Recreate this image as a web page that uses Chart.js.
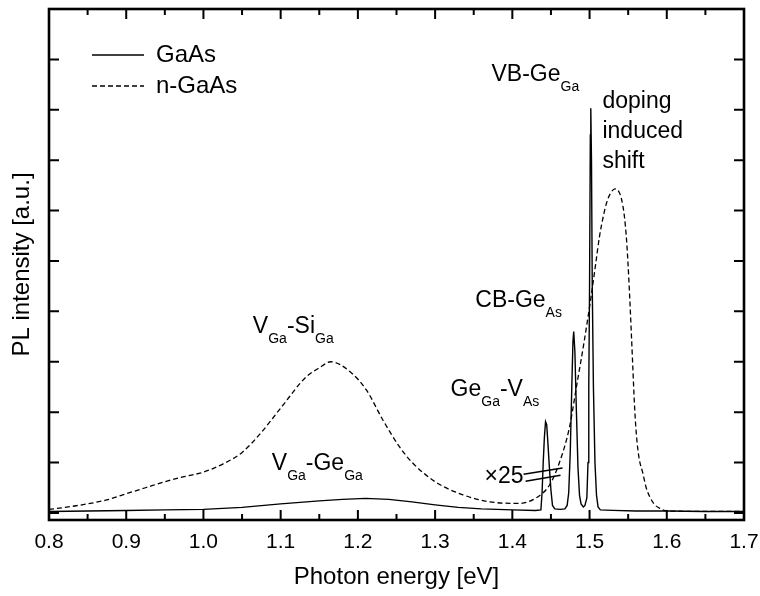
<!DOCTYPE html>
<html>
<head>
<meta charset="utf-8">
<script src="https://cdn.jsdelivr.net/npm/chart.js@4/dist/chart.umd.min.js"></script>
<style>
  html, body { margin: 0; padding: 0; background: #fff; }
  #wrap { width: 760px; height: 596px; }
</style>
</head>
<body>
<div id="wrap"><canvas id="pl" width="760" height="596"></canvas></div>
<script>
// Photoluminescence spectra (intensity in arbitrary units)
const seriesNames = ['GaAs', 'n-GaAs'];

const gaasEnergy = [0.80, 0.85, 0.90, 0.95, 1.00, 1.05, 1.10, 1.15, 1.18, 1.21, 1.24, 1.27, 1.30, 1.33, 1.36, 1.40, 1.43,
  1.437, 1.4385, 1.440, 1.4415, 1.443, 1.4445, 1.446, 1.448, 1.450, 1.452, 1.455, 1.462, 1.468, 1.471, 1.473, 1.475,
  1.477, 1.4785, 1.4795, 1.481, 1.483, 1.485, 1.487, 1.489, 1.492, 1.494, 1.4965, 1.498, 1.499, 1.500, 1.501, 1.5016,
  1.5025, 1.5035, 1.505, 1.507, 1.509, 1.511, 1.514, 1.53, 1.56, 1.60, 1.65, 1.70];
const gaasIntensity = [0.03, 0.04, 0.05, 0.06, 0.07, 0.11, 0.18, 0.24, 0.27, 0.29, 0.27, 0.22, 0.16, 0.11, 0.08, 0.06, 0.05,
  0.06, 0.4, 1.0, 1.5, 1.81, 1.75, 1.4, 0.9, 0.45, 0.15, 0.08, 0.07, 0.08, 0.15, 0.4, 1.2,
  2.5, 3.4, 3.6, 3.2, 2.0, 0.9, 0.35, 0.18, 0.12, 0.15, 0.3, 1.0, 2.5, 4.5, 7.5, 8.03,
  7.0, 4.5, 2.5, 1.0, 0.35, 0.12, 0.06, 0.05, 0.04, 0.04, 0.03, 0.03];

const nGaasEnergy = [0.80, 0.825, 0.85, 0.875, 0.90, 0.925, 0.95, 0.975, 1.00, 1.025, 1.05, 1.075, 1.10, 1.133, 1.15, 1.165,
  1.19, 1.211, 1.2325, 1.254, 1.271, 1.30, 1.336, 1.371, 1.409, 1.431, 1.448, 1.461, 1.474, 1.483, 1.493, 1.503, 1.508,
  1.513, 1.518, 1.522, 1.527, 1.533, 1.537, 1.541, 1.545, 1.548, 1.551, 1.554, 1.556, 1.558, 1.5605, 1.564, 1.569, 1.573,
  1.578, 1.584, 1.591, 1.600, 1.65, 1.70];
const nGaasIntensity = [0.07, 0.12, 0.18, 0.26, 0.38, 0.50, 0.62, 0.72, 0.81, 0.97, 1.20, 1.6, 2.08, 2.70, 2.88, 3.0,
  2.8, 2.44, 1.84, 1.31, 0.99, 0.62, 0.36, 0.22, 0.19, 0.3, 0.55, 1.0, 1.7, 2.5, 3.4, 4.4, 4.95,
  5.5, 5.9, 6.15, 6.34, 6.43, 6.4, 6.25, 5.9, 5.4, 4.6, 3.6, 2.9, 2.2, 1.58, 1.1, 0.79, 0.52,
  0.32, 0.17, 0.09, 0.04, 0.03, 0.03];

const xTickValues = [0.8, 0.9, 1.0, 1.1, 1.2, 1.3, 1.4, 1.5, 1.6, 1.7];
const yTickValues = [0, 1, 2, 3, 4, 5, 6, 7, 8, 9, 10];

// Peak assignments; each part is [text, isSubscript]
const peakLabels = [
  { x: 1.373, y: 8.57, parts: [['VB-Ge', false], ['Ga', true]] },
  { x: 1.352, y: 4.09, parts: [['CB-Ge', false], ['As', true]] },
  { x: 1.320, y: 2.32, parts: [['Ge', false], ['Ga', true], ['-V', false], ['As', true]] },
  { x: 1.064, y: 3.57, parts: [['V', false], ['Ga', true], ['-Si', false], ['Ga', true]] },
  { x: 1.0885, y: 0.85, parts: [['V', false], ['Ga', true], ['-Ge', false], ['Ga', true]] },
  { x: 1.364, y: 0.59, parts: [['\u00d725', false]] }
];
const shiftNote = { x: 1.5167, y: 8.04, lines: ['doping', 'induced', 'shift'] };
// scale-break strokes next to the ×25 factor
const breakMarks = [
  [[1.4145, 0.77], [1.465, 0.89]],
  [[1.4171, 0.63], [1.4624, 0.75]]
];

const FONT = '"Liberation Sans", Arial, Helvetica, sans-serif';
Chart.defaults.font.family = FONT;
Chart.defaults.color = '#000';

const toPoints = (xs, ys) => xs.map((x, i) => ({ x, y: ys[i] }));

const frameAndTicks = {
  id: 'frameAndTicks',
  afterLayout(chart) {
    const lg = chart.legend;
    if (!lg) return;
    const a = chart.chartArea;
    const w = lg.width, h = lg.height;
    lg.left = a.left + 36; lg.top = a.top + 27;
    lg.right = lg.left + w; lg.bottom = lg.top + h;
  },
  afterDatasetsDraw(chart) {
    const { ctx, chartArea: a, scales: { x, y } } = chart;
    ctx.save();
    ctx.strokeStyle = '#000';
    ctx.lineWidth = 2;
    ctx.beginPath();
    xTickValues.forEach((v, i) => {
      const px = x.getPixelForValue(v);
      ctx.moveTo(px, a.bottom); ctx.lineTo(px, a.bottom - 10);
      ctx.moveTo(px, a.top); ctx.lineTo(px, a.top + 10);
      if (i < xTickValues.length - 1) {
        const pm = x.getPixelForValue((v + xTickValues[i + 1]) / 2);
        ctx.moveTo(pm, a.bottom); ctx.lineTo(pm, a.bottom - 6);
        ctx.moveTo(pm, a.top); ctx.lineTo(pm, a.top + 6);
      }
    });
    yTickValues.forEach(v => {
      const py = y.getPixelForValue(v);
      ctx.moveTo(a.left, py); ctx.lineTo(a.left + 10, py);
      ctx.moveTo(a.right, py); ctx.lineTo(a.right - 10, py);
    });
    ctx.stroke();
    ctx.lineWidth = 2.6;
    ctx.strokeRect(a.left, a.top, a.right - a.left, a.bottom - a.top);

    // scale-break strokes
    ctx.lineWidth = 1.5;
    ctx.beginPath();
    breakMarks.forEach(([p, q]) => {
      ctx.moveTo(x.getPixelForValue(p[0]), y.getPixelForValue(p[1]));
      ctx.lineTo(x.getPixelForValue(q[0]), y.getPixelForValue(q[1]));
    });
    ctx.stroke();

    // peak labels with subscripts
    ctx.fillStyle = '#000';
    ctx.textBaseline = 'alphabetic';
    ctx.textAlign = 'left';
    peakLabels.forEach(lbl => {
      let px = x.getPixelForValue(lbl.x);
      const py = y.getPixelForValue(lbl.y);
      lbl.parts.forEach(([t, sub]) => {
        ctx.font = (sub ? '14px ' : '23px ') + FONT;
        ctx.fillText(t, px, sub ? py + 10 : py);
        px += ctx.measureText(t).width;
      });
    });
    ctx.font = '23px ' + FONT;
    const sx = x.getPixelForValue(shiftNote.x);
    const sy = y.getPixelForValue(shiftNote.y);
    shiftNote.lines.forEach((t, i) => ctx.fillText(t, sx, sy + i * 30));
    ctx.restore();
  }
};

new Chart(document.getElementById('pl'), {
  type: 'scatter',
  data: {
    datasets: [
      {
        label: seriesNames[0],
        data: toPoints(gaasEnergy, gaasIntensity),
        showLine: true,
        borderColor: '#000',
        backgroundColor: 'transparent',
        borderWidth: 1.4,
        pointRadius: 0,
        pointStyle: 'line',
        tension: 0
      },
      {
        label: seriesNames[1],
        data: toPoints(nGaasEnergy, nGaasIntensity),
        showLine: true,
        borderColor: '#000',
        backgroundColor: 'transparent',
        borderWidth: 1.3,
        borderDash: [5, 3],
        pointRadius: 0,
        pointStyle: 'line',
        cubicInterpolationMode: 'monotone'
      }
    ]
  },
  options: {
    responsive: false,
    animation: false,
    devicePixelRatio: 1,
    layout: { padding: { top: 9, right: 16, bottom: 0, left: 0 } },
    plugins: {
      tooltip: { enabled: false },
      legend: {
        position: 'chartArea',
        align: 'start',
        labels: {
          usePointStyle: true,
          pointStyleWidth: 52,
          boxHeight: 2,
          padding: 7,
          color: '#000',
          font: { size: 24, family: FONT },
          generateLabels: chart => {
            const items = Chart.defaults.plugins.legend.labels.generateLabels(chart);
            items.forEach(it => {
              const ds = chart.data.datasets[it.datasetIndex];
              it.lineDash = ds.borderDash || [];
              it.lineWidth = ds.borderWidth;
              it.strokeStyle = ds.borderColor;
            });
            return items;
          }
        }
      }
    },
    scales: {
      x: {
        type: 'linear',
        min: 0.8,
        max: 1.7,
        afterBuildTicks: s => { s.ticks = xTickValues.map(v => ({ value: v })); },
        afterFit: s => { s.height = 76; s.paddingLeft = 0; s.paddingRight = 0; },
        grid: { display: false, drawTicks: false },
        border: { display: false },
        ticks: {
          autoSkip: false,
          maxRotation: 0,
          padding: 10,
          color: '#000',
          font: { size: 21, family: FONT },
          callback: v => Number(v).toFixed(1)
        },
        title: {
          display: true,
          text: 'Photon energy [eV]',
          color: '#000',
          font: { size: 24, family: FONT },
          padding: { top: 0, bottom: 4 }
        }
      },
      y: {
        type: 'linear',
        min: -0.14,
        max: 10,
        afterFit: s => { s.width = 49; s.paddingTop = 0; s.paddingBottom = 0; },
        grid: { display: false, drawTicks: false },
        border: { display: false },
        ticks: { display: false },
        title: {
          display: true,
          text: 'PL intensity [a.u.]',
          color: '#000',
          font: { size: 24, family: FONT },
          padding: { top: 8, bottom: 0 }
        }
      }
    }
  },
  plugins: [frameAndTicks]
});
</script>
</body>
</html>
